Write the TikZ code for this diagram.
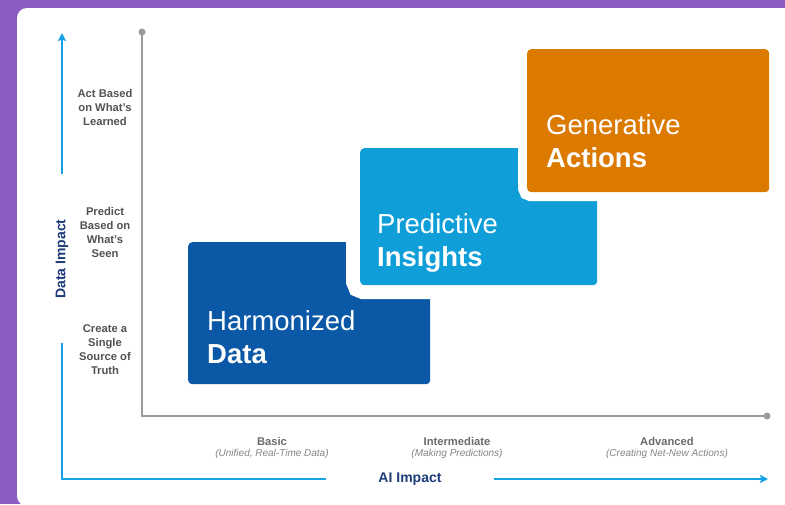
\documentclass[tikz,border=0pt]{standalone}
\usepackage{fontspec}
\setmainfont{Liberation Sans}
\usetikzlibrary{arrows.meta}
\definecolor{bgpurple}{RGB}{139,92,193}
\definecolor{axisblue}{RGB}{22,160,230}
\definecolor{stageblue}{RGB}{11,88,166}
\definecolor{stagesky}{RGB}{16,158,217}
\definecolor{stageorange}{RGB}{220,122,0}
\definecolor{navytext}{RGB}{30,60,120}
\definecolor{axisgray}{RGB}{155,155,155}

\begin{document}
\begin{tikzpicture}[
    x = 1pt,
    y = -1pt,
    stage/.style = {rounded corners=4pt, anchor=north west, inner sep=0pt},
    stagetext/.style = {anchor=base west, align=left, text=white, inner sep=0pt,
      font=\fontsize{27.5}{33}\selectfont},
    axistitle/.style = {inner sep=0pt, text=navytext,
      font=\fontsize{14}{16}\selectfont\bfseries},
    levellabel/.style = {align=center, text=black!68, inner sep=0pt,
      font=\fontsize{11.2}{14}\selectfont\bfseries},
    blueaxis/.style = {draw=axisblue, line width=2pt},
    grayaxis/.style = {draw=axisgray, line width=2pt},
    ]
    \useasboundingbox (0,0) rectangle (785,504);
    \clip (0,0) rectangle (785,504);
    % background
    \fill[bgpurple] (0,0) rectangle (785,504);
    \fill[white, rounded corners=10pt] (17,8) rectangle (800,506);
    % gray axes
    \coordinate (ytop) at (142,32);
    \coordinate (corner) at (142,416);
    \coordinate (xend) at (767,416);
    \draw[grayaxis] (ytop) -- (corner) -- (xend);
    \foreach \pt in {ytop, xend}
    \fill[axisgray] (\pt) circle (3.5pt);
    % stages
    \node[stage, fill=stageblue, minimum width=242pt, minimum height=142pt]
    (harm) at (188,242) {};
    \node[stage, fill=stagesky, minimum width=237pt, minimum height=137pt,
      preaction={draw=white, line width=28pt}]
    (pred) at (360,148) {};
    \node[stage, fill=stageorange, minimum width=242pt, minimum height=143pt,
      preaction={draw=white, line width=18pt}]
    (gen) at (527,49) {};
    \node[stagetext] (harmtxt) at (207,363) {Harmonized\\\textbf{Data}};
    \node[stagetext] (predtxt) at (377,266) {Predictive\\\textbf{Insights}};
    \node[stagetext] (gentxt) at (546,167) {Generative\\\textbf{Actions}};
    % level labels
    \foreach \ypos/\txt [count=\i] in {107/{Act Based\\on What's\\Learned},
      232/{Predict\\Based on\\What's\\Seen}, 350/{Create a\\Single\\Source of\\Truth}}
    \node[levellabel] (lvl\i) at (105,\ypos) {\txt};
    \foreach \xpos/\main/\sub [count=\i] in {272/Basic/{(Unified, Real-Time Data)},
      457/Intermediate/{(Making Predictions)}, 667/Advanced/{(Creating Net-New Actions)}}
    {
      \node[levellabel, text=black!58] (ai\i) at (\xpos,441) {\main};
      \node[inner sep=0pt, text=black!48, font=\fontsize{10}{11}\selectfont\itshape]
      (aisub\i) at (\xpos,454) {\sub};
    }
    % blue axes
    \coordinate (ytip) at (62,33);
    \coordinate (origin) at (62,479);
    \coordinate (xtip) at (768,479);
    \node[axistitle, rotate=90] (dataimp) at (62,259) {Data Impact};
    \node[axistitle] (aiimp) at (410,479) {AI Impact};
    \draw[blueaxis, shorten < = 44pt, shorten > = 52pt]
    (dataimp.west) -- (origin) -- (aiimp.west);
    \draw[blueaxis, -{Stealth[length=8pt, width=8pt, inset=1.5pt]}, shorten < = 45pt]
    (dataimp.east) -- (ytip);
    \draw[blueaxis, -{Stealth[length=8pt, width=8pt, inset=1.5pt]}, shorten < = 52pt]
    (aiimp.east) -- (xtip);
  \end{tikzpicture}
\end{document}
